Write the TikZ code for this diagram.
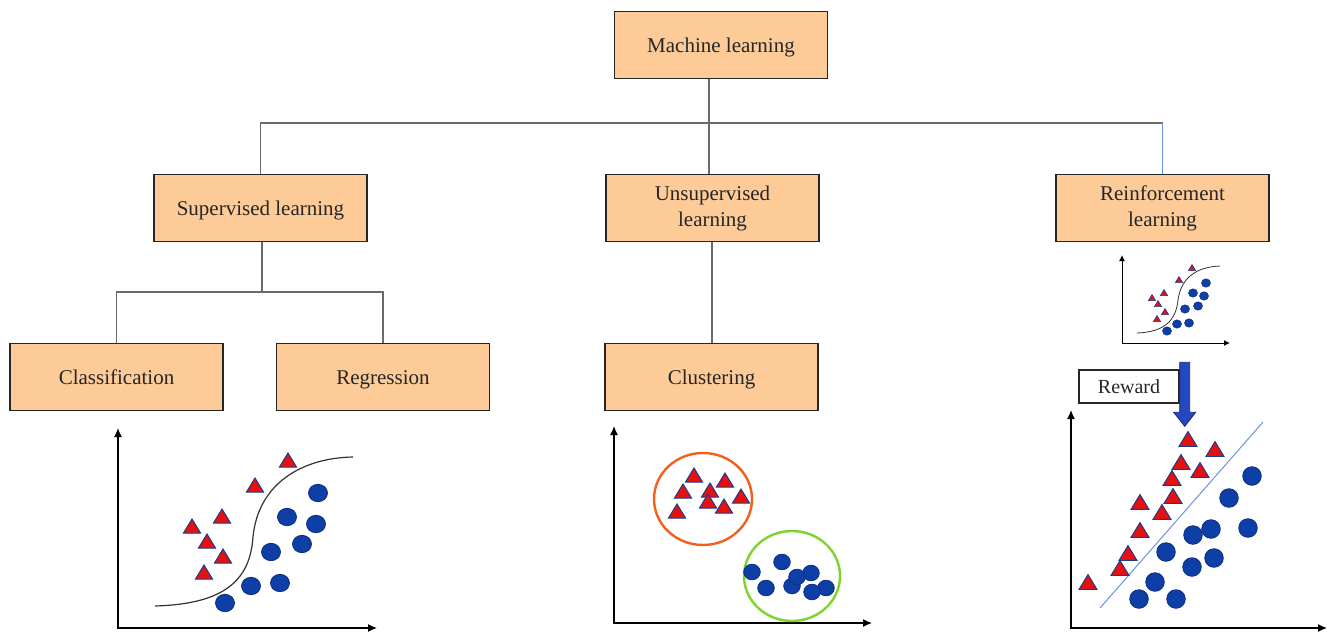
\documentclass[tikz,border=0pt]{standalone}
\usepackage{fontspec}
\setmainfont{Liberation Serif}
\usetikzlibrary{arrows.meta}
\definecolor{boxfill}{HTML}{FDCB98}
\definecolor{tred}{HTML}{E8100F}
\definecolor{tblue}{HTML}{1B3C8C}
\definecolor{cblue}{HTML}{0D3FA6}
\definecolor{cedge}{HTML}{0A2E80}
\definecolor{linegray}{HTML}{6A6A6A}
\definecolor{lineblue}{HTML}{6A93E6}
\definecolor{corange}{HTML}{F2601E}
\definecolor{cgreen}{HTML}{7FD32E}
\definecolor{arrowblue}{HTML}{2547C0}
\definecolor{arrowedge}{HTML}{13287A}
\tikzset{
  box/.style={draw=black!85, line width=1.6pt, fill=boxfill, minimum width=213pt,
    minimum height=67pt, inner sep=0pt, align=center,
    font=\fontsize{21}{26}\selectfont, text=black!85},
  boxone/.style={box, text height=14pt, text depth=0pt},
  rewardbox/.style={draw=black!85, line width=1.4pt, fill=white, minimum width=100pt,
    minimum height=33pt, inner sep=0pt, font=\fontsize{20}{24}\selectfont, text=black!85},
  conn/.style={draw=linegray, line width=1.3pt},
  axisl/.style={line width=1.3pt, {Latex[length=9pt,width=8pt]}-{Latex[length=9pt,width=8pt]}},
  axiss/.style={line width=1pt, {Latex[length=6pt,width=6pt]}-{Latex[length=6pt,width=6pt]}},
  trist/.style={fill=tred, draw=tblue, line width=1pt, line join=miter},
  tristsm/.style={fill=tred, draw=tblue, line width=0.6pt},
  dotst/.style={fill=cblue, draw=cedge, line width=0.8pt},
  tri/.pic={\path[trist] (-8.5,6) -- (8.5,6) -- (0,-8) -- cycle;},
  trism/.pic={\path[tristsm] (-3.6,2.6) -- (3.6,2.6) -- (0,-3.4) -- cycle;},
}
\begin{document}
\begin{tikzpicture}[x=1pt,y=-1pt]
\useasboundingbox (0,0) rectangle (1330,632);
\fill[white] (0,0) rectangle (1330,632);

% tree boxes
\node[boxone] (ml)  at (721,45)    {Machine learning};
\node[boxone] (sup) at (260.5,208) {Supervised learning};
\node[box] (un)  at (712.5,208) {\raisebox{-2pt}{Unsupervised}\\\raisebox{-2pt}{learning}};
\node[box] (rl)  at (1162.5,208) {\raisebox{-2pt}{Reinforcement}\\\raisebox{-2pt}{learning}};
\node[boxone] (cls) at (116.5,377) {Classification};
\node[boxone] (reg) at (383,377)   {Regression};
\node[boxone] (clu) at (711.5,377) {Clustering};

% connectors
\coordinate (j1) at (709,123);
\coordinate (j2) at (262,292);
\coordinate (j3) at (712,300);
\draw[conn] (j1 |- ml.south) -- (j1) -- (j1 |- un.north);
\draw[conn] (sup.north) |- (j1) -- (j1 -| rl.north);
\draw[conn, draw=lineblue] (rl.north) -- (rl.north |- j1);
\draw[conn] (j2 |- sup.south) -- (j2);
\draw[conn] (cls.north) |- (j2) -| (reg.north);
\draw[conn] (j3 |- un.south) -- (j3 |- clu.north);

% ---------- classification plot ----------
\draw[axisl] (118,428) -- (118,628) -- (377,628);
\draw[line width=1.2pt, black!80] (155,606) .. controls (225,604) and (250,580) .. (253,537)
  .. controls (258,485) and (300,458) .. (353,457);
\foreach \p in {(288,461),(255,486),(222,517),(192,527),(207,542),(223,557),(204,573)}
  \pic at \p {tri};
\foreach \p in {(318,493),(287,517),(316,524),(302,544),(271,552),(251,586),(280,583),(225,603)}
  \path[dotst] \p ellipse [x radius=9.5, y radius=8.7];

% ---------- clustering plot ----------
\draw[axisl] (614,426) -- (614,623) -- (872,623);
\draw[corange, line width=2.4pt] (703,499) ellipse [x radius=49, y radius=46];
\draw[cgreen, line width=2.4pt] (792,576) ellipse [x radius=48, y radius=45];
\foreach \p in {(694,476),(725,481),(683,492),(710,491),(741,497),(708,502),(724,507),(677,512)}
  \pic at \p {tri};
\foreach \p in {(752,572),(782,562),(811,573),(792,586),(797,577),(766,588),(826,588),(812,592)}
  \path[dotst] \p ellipse [x radius=8.3, y radius=7.8];

% ---------- reinforcement small plot ----------
\draw[axiss] (1122,255) -- (1122,343) -- (1230,343);
\draw[line width=0.8pt, black!80] (1137,333) .. controls (1165,332) and (1176,320) .. (1178,300)
  .. controls (1181,278) and (1196,267) .. (1220,266);
\foreach \p in {(1192,268),(1179,280),(1164,293),(1152,298),(1158,304),(1165,312),(1157,319)}
  \pic at \p {trism};
\foreach \p in {(1206,283),(1193,293),(1204,296),(1198,306),(1185,309),(1177,324),(1189,323),(1167,331)}
  \path[dotst, line width=0.5pt] \p ellipse [x radius=4.5, y radius=4.2];

% ---------- reinforcement large plot ----------
\draw[axisl] (1071,410) -- (1071,628) -- (1327,628);
\draw[lineblue, line width=1pt] (1100,608) -- (1263,422);
\foreach \p in {(1188,440),(1215,450),(1181,463),(1200,471),(1172,479),(1173,497),(1140,503),(1162,513),(1140,531),(1128,554),(1120,569),(1088,583)}
  \pic[scale=1.05] at \p {tri};
\foreach \p in {(1252,476),(1229,498),(1248,528),(1211,529),(1193,535),(1166,552),(1214,558),(1192,567),(1155,582),(1139,599),(1176,599)}
  \path[dotst] \p circle [radius=9.3];

% reward box and arrow
\node[rewardbox] (rw) at (1129,386.5) {Reward};
\path[fill=arrowblue, draw=arrowedge, line width=0.8pt]
  (rw.north east) ++(0,-7) -- ++(10,0) -- ++(0,50) -- ++(6,0) -- ++(-11,14) -- ++(-11,-14) -- ++(6,0) -- cycle;
\end{tikzpicture}
\end{document}
